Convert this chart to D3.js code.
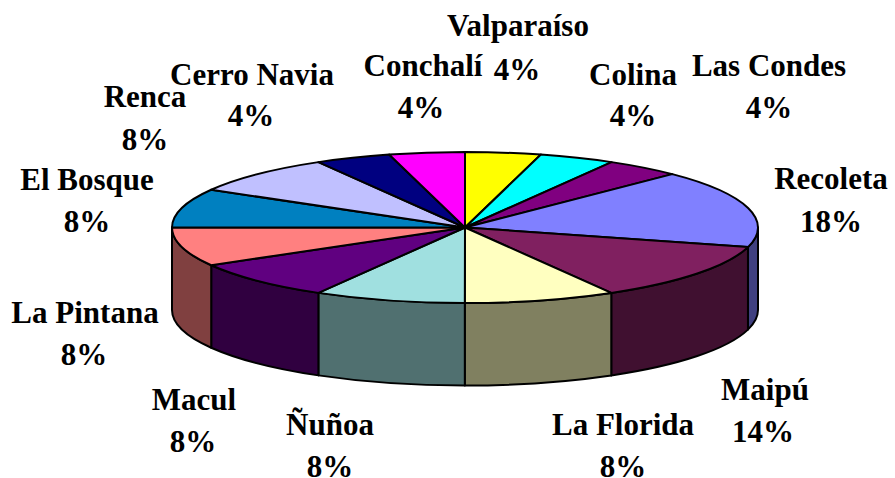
<!DOCTYPE html>
<html>
<head>
<meta charset="utf-8">
<script src="https://cdn.jsdelivr.net/npm/d3@7"></script>
<style>
  html, body { margin: 0; padding: 0; background: #fff; overflow: hidden; }
  text { font-family: "Liberation Serif", serif; font-weight: bold; font-size: 31px; fill: #000; text-anchor: middle; }
</style>
</head>
<body>
<script>
var comunas = ['Valparaíso', 'Colina', 'Las Condes', 'Recoleta', 'Maipú', 'La Florida', 'Ñuñoa', 'Macul', 'La Pintana', 'El Bosque', 'Renca', 'Cerro Navia', 'Conchalí'];
// the printed labels, they do not quite agree with the slice widths in the picture
var percentLabels = ['4%', '4%', '4%', '18%', '14%', '8%', '8%', '8%', '8%', '8%', '8%', '4%', '4%'];
var shares = [4.17, 4.17, 4.17, 16.67, 12.5, 8.33, 8.33, 8.33, 8.33, 8.33, 8.33, 4.17, 4.17];

var topColors = ['#ffff00', '#00ffff', '#800080', '#8080ff', '#802060', '#ffffc0', '#a0e0e0', '#600080', '#ff8080', '#0080c0', '#c0c0ff', '#000080', '#ff00ff'];
var sideColors = ['#808000', '#008080', '#400040', '#404080', '#401030', '#808060', '#507070', '#300040', '#804040', '#004060', '#606080', '#000040', '#800080'];

// [name x, name baseline, percent x, percent baseline]
var labelSpots = [
  [518, 36, 517, 80], [633, 85, 633, 126], [769, 76, 769, 118], [831, 189, 831, 232],
  [765, 400, 763, 442], [623, 435, 623, 476.5], [330, 435, 330, 476.5], [194, 410, 193, 452],
  [85, 323, 84, 365], [87, 190, 87, 232], [145, 107, 145, 150], [252, 85, 251, 126], [423, 76, 421, 118]
];

var width = 895, height = 478;
var cx = 465, cy = 227.5, rx = 293, ry = 75.5, depth = 82.5;

var svg = d3.select('body').append('svg')
  .attr('width', width)
  .attr('height', height);

var pie = d3.pie().sort(null).value(function(d) { return d; });
var slices = pie(shares);

function px(a) { return cx + rx * Math.sin(a); }
function py(a) { return cy - ry * Math.cos(a); }

// wall below the rim, only the front half of the ellipse shows
function wall(d) {
  var a0 = Math.max(d.startAngle, Math.PI / 2);
  var a1 = Math.min(d.endAngle, Math.PI * 1.5);
  if (a1 <= a0) return null;
  return 'M' + px(a0) + ',' + py(a0) +
    'A' + rx + ',' + ry + ' 0 0 1 ' + px(a1) + ',' + py(a1) +
    'L' + px(a1) + ',' + (py(a1) + depth) +
    'A' + rx + ',' + ry + ' 0 0 0 ' + px(a0) + ',' + (py(a0) + depth) + 'Z';
}

svg.append('g').selectAll('path')
  .data(slices)
  .enter()
  .append('path')
  .attr('d', wall)
  .attr('fill', function(d, i) { return sideColors[i]; })
  .attr('stroke', '#000')
  .attr('stroke-width', 2)
  .attr('stroke-linejoin', 'round');

var arc = d3.arc().innerRadius(0).outerRadius(rx);

svg.append('g')
  .attr('transform', 'translate(' + cx + ',' + cy + ') scale(1,' + (ry / rx) + ')')
  .selectAll('path')
  .data(slices)
  .enter()
  .append('path')
  .attr('d', arc)
  .attr('fill', function(d, i) { return topColors[i]; })
  .attr('stroke', '#000')
  .attr('stroke-width', 2)
  .attr('stroke-linejoin', 'round')
  .attr('vector-effect', 'non-scaling-stroke');

var labels = svg.append('g').selectAll('g')
  .data(comunas)
  .enter()
  .append('g');

labels.append('text')
  .attr('x', function(d, i) { return labelSpots[i][0]; })
  .attr('y', function(d, i) { return labelSpots[i][1]; })
  .text(function(d) { return d; });

labels.append('text')
  .attr('x', function(d, i) { return labelSpots[i][2]; })
  .attr('y', function(d, i) { return labelSpots[i][3]; })
  .text(function(d, i) { return percentLabels[i]; });
</script>
</body>
</html>
